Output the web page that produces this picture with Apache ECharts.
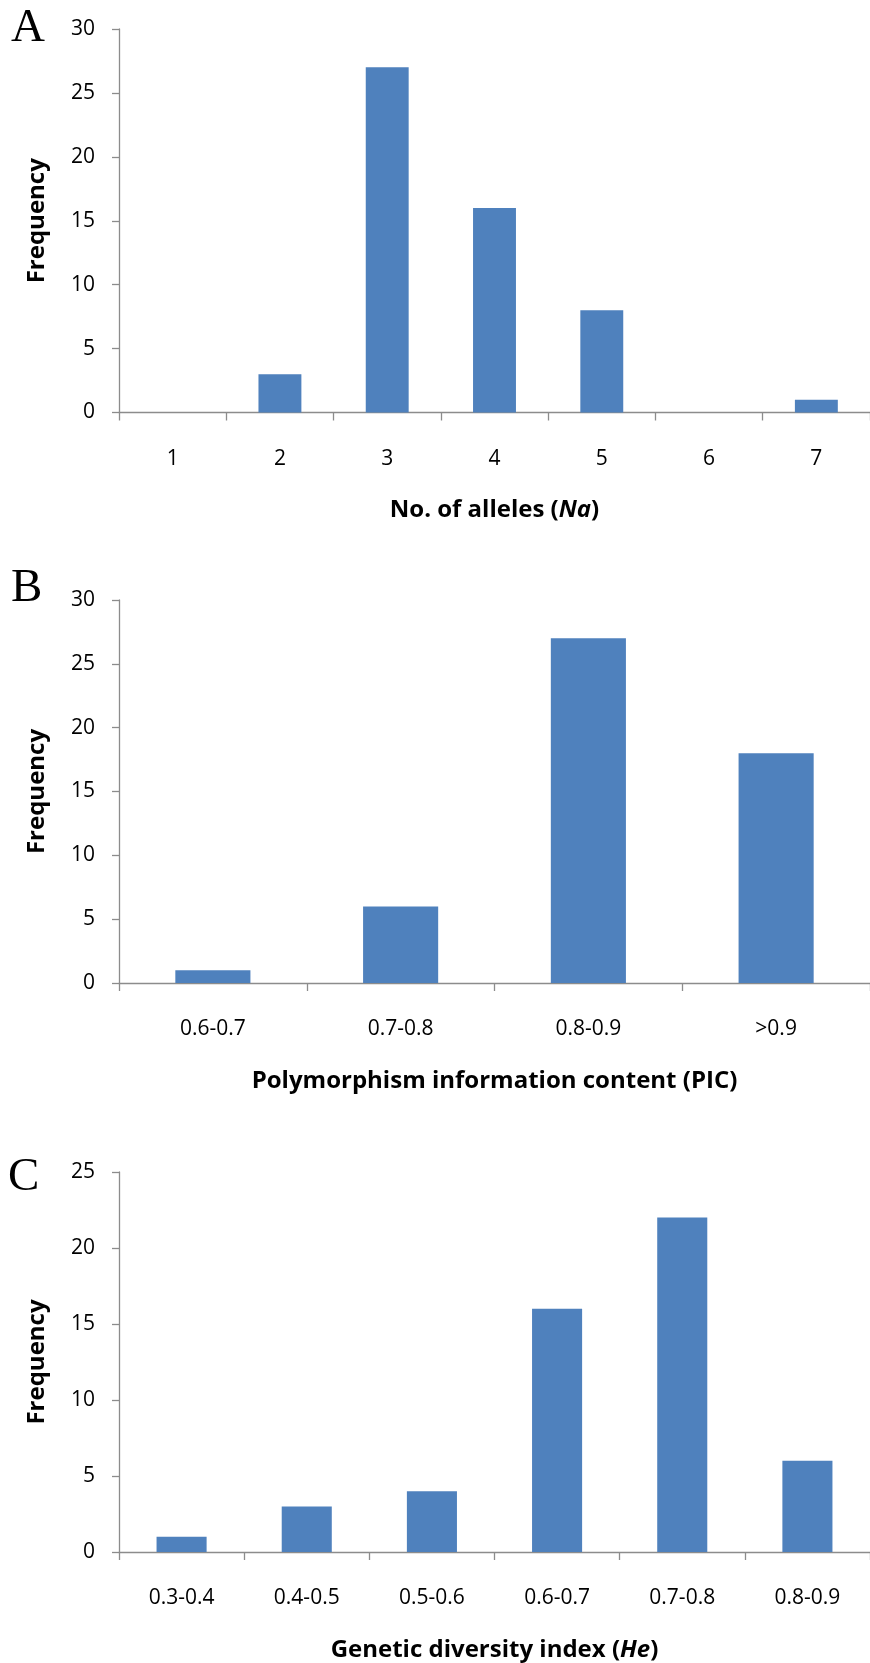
<!DOCTYPE html>
<html>
<head>
<meta charset="utf-8">
<script src="https://cdn.jsdelivr.net/npm/echarts@6/dist/echarts.min.js"></script>
<style>
  html, body { margin: 0; padding: 0; background: #fff; }
  #main { width: 870px; height: 1663px; }
</style>
</head>
<body>
<div id="main"></div>
<script>
// A: number of alleles
var allelesCats = ['1', '2', '3', '4', '5', '6', '7'];
var allelesFreq = [0, 3, 27, 16, 8, 0, 1];
// B: PIC
var picCats = ['0.6-0.7', '0.7-0.8', '0.8-0.9', '>0.9'];
var picFreq = [1, 6, 27, 18];
// C: He
var heCats = ['0.3-0.4', '0.4-0.5', '0.5-0.6', '0.6-0.7', '0.7-0.8', '0.8-0.9'];
var heFreq = [1, 3, 4, 16, 22, 6];

var yMaxA = 30, yMaxB = 30, yMaxC = 25;

var axisGrey = '#8c8c8c';
var txtFont = 'Open Sans';

var titleRich = {
    b: { fontFamily: txtFont, fontWeight: 'bold', fontSize: 24, color: '#000' },
    i: { fontFamily: txtFont, fontWeight: 'bold', fontStyle: 'italic', fontSize: 24, color: '#000' }
};

function xAxis(idx, cats, name) {
    return {
        type: 'category',
        gridIndex: idx,
        data: cats,
        axisLine: { lineStyle: { color: axisGrey, width: 1.3 } },
        axisTick: { show: true, length: 8, lineStyle: { color: axisGrey, width: 1.3 } },
        axisLabel: { margin: 36, fontFamily: txtFont, fontSize: 21, color: '#000' },
        name: name,
        nameLocation: 'middle',
        nameGap: 86,
        nameTextStyle: { rich: titleRich }
    };
}

function yAxis(idx, max) {
    return {
        type: 'value',
        gridIndex: idx,
        min: 0,
        max: max,
        interval: 5,
        splitLine: { show: false },
        axisLine: { show: true, lineStyle: { color: axisGrey, width: 1.3 } },
        axisTick: { show: true, length: 7, lineStyle: { color: axisGrey, width: 1.3 } },
        axisLabel: { margin: 24, fontFamily: txtFont, fontSize: 21, color: '#000' },
        name: 'Frequency',
        nameLocation: 'middle',
        nameGap: 70,
        nameTextStyle: { fontFamily: txtFont, fontWeight: 'bold', fontSize: 24, color: '#000' }
    };
}

function barSeries(idx, data) {
    return {
        type: 'bar',
        xAxisIndex: idx,
        yAxisIndex: idx,
        data: data,
        barWidth: '40%',
        itemStyle: { color: '#4f81bd' }
    };
}

function panelLetter(txt, x, y) {
    return {
        type: 'text',
        x: x,
        y: y,
        style: {
            text: txt,
            font: '47px "Liberation Serif"',
            fill: '#000',
            textVerticalAlign: 'top'
        }
    };
}

var chart = echarts.init(document.getElementById('main'));
chart.setOption({
    animation: false,
    grid: [
        { left: 119, top: 29, width: 758, height: 383.5 },
        { left: 119, top: 600, width: 757, height: 383 },
        { left: 119, top: 1172, width: 757, height: 382.5 }
    ],
    xAxis: [
        xAxis(0, allelesCats, '{b|No. of alleles (}{i|Na}{b|)}'),
        xAxis(1, picCats, '{b|Polymorphism information content (PIC)}'),
        xAxis(2, heCats, '{b|Genetic diversity index (}{i|He}{b|)}')
    ],
    yAxis: [yAxis(0, yMaxA), yAxis(1, yMaxB), yAxis(2, yMaxC)],
    series: [
        barSeries(0, allelesFreq),
        barSeries(1, picFreq),
        barSeries(2, heFreq)
    ],
    graphic: [
        panelLetter('A', 11, 5),
        panelLetter('B', 11, 565),
        panelLetter('C', 8, 1154)
    ]
});
</script>
</body>
</html>
